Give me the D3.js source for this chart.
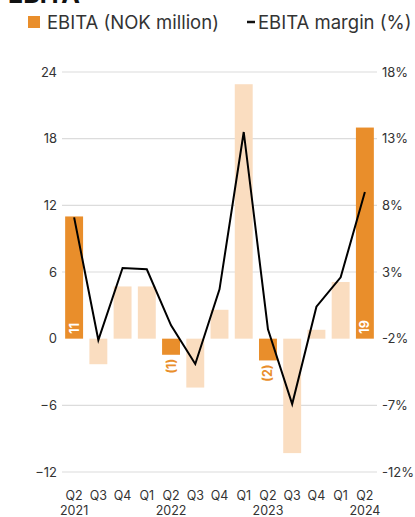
<!DOCTYPE html>
<html>
<head>
<meta charset="utf-8">
<script src="https://cdn.jsdelivr.net/npm/d3@7"></script>
<style>
  html, body { margin: 0; padding: 0; background: #fff; }
  svg { display: block; font-family: Inter, "Noto Sans", sans-serif; }
</style>
</head>
<body>
<svg id="chart" width="415" height="517"></svg>
<script>
// Quarterly EBITA (NOK million) and EBITA margin (%)
const quarters = ["Q2", "Q3", "Q4", "Q1", "Q2", "Q3", "Q4", "Q1", "Q2", "Q3", "Q4", "Q1", "Q2"];
const years    = ["2021", "", "", "", "2022", "", "", "", "2023", "", "", "", "2024"];
const ebita    = [11, -2.3, 4.7, 4.7, -1.45, -4.4, 2.6, 22.9, -1.96, -10.3, 0.8, 5.1, 19];
const margin   = [7.1, -2.1, 3.3, 3.2, -1.0, -3.9, 1.7, 13.5, -1.3, -6.9, 0.4, 2.6, 9.0];
// Quarters that are highlighted (reported quarter of each year)
const highlight = [true, false, false, false, true, false, false, false, true, false, false, false, true];
const leftTicks  = [-12, -6, 0, 6, 12, 18, 24];
const rightTicks = [-12, -7, -2, 3, 8, 13, 18];

const dark = "#E98E2B", light = "#FADDC0", textCol = "#333";
const svg = d3.select("#chart");
const idx = d3.range(quarters.length);

const x = d3.scaleBand().domain(idx).range([62, 377]).paddingInner(0.26).paddingOuter(0.13);
const yL = d3.scaleLinear().domain([-12, 24]).range([472, 72]);
const yR = d3.scaleLinear().domain([-12, 18]).range([472, 72]);

// Title (partly above the visible area)
svg.append("text").attr("x", 8).attr("y", 3).attr("font-size", 25).attr("font-weight", 700)
  .attr("fill", "#111").text("EBITA");

// Legend
svg.append("rect").attr("x", 28).attr("y", 16).attr("width", 12).attr("height", 12).attr("fill", dark);
svg.append("text").attr("x", 47).attr("y", 28.5).attr("font-size", 18.5).attr("fill", textCol).text("EBITA (NOK million)");
svg.append("line").attr("x1", 247).attr("x2", 255).attr("y1", 22).attr("y2", 22)
  .attr("stroke", "#111").attr("stroke-width", 2.5);
svg.append("text").attr("x", 258).attr("y", 28.5).attr("font-size", 18.5).attr("fill", textCol).text("EBITA margin (%)");

// Gridlines (no line at zero)
svg.append("g").selectAll("line").data(leftTicks.filter(t => t !== 0)).join("line")
  .attr("x1", 62).attr("x2", 377).attr("y1", d => yL(d)).attr("y2", d => yL(d))
  .attr("stroke", "#dcdcdc").attr("stroke-width", 1.2);

// Left axis
const axL = svg.append("g").attr("transform", "translate(62,0)")
  .call(d3.axisLeft(yL).tickValues(leftTicks).tickSize(0).tickPadding(5).tickFormat(d3.format("d")));
axL.select(".domain").remove();
axL.selectAll("text").attr("font-size", 13).attr("fill", textCol).attr("font-family", "Inter, sans-serif");

// Right axis
const axR = svg.append("g").attr("transform", "translate(377,0)")
  .call(d3.axisRight(yR).tickValues(rightTicks).tickSize(0).tickPadding(5).tickFormat(d => d + "%"));
axR.select(".domain").remove();
axR.selectAll("text").attr("font-size", 13).attr("fill", textCol).attr("font-family", "Inter, sans-serif");

// Bars
svg.append("g").selectAll("rect").data(idx).join("rect")
  .attr("x", i => x(i)).attr("width", x.bandwidth())
  .attr("y", i => yL(Math.max(0, ebita[i])))
  .attr("height", i => Math.abs(yL(ebita[i]) - yL(0)))
  .attr("fill", i => highlight[i] ? dark : light);

// Value labels on highlighted bars, rotated
svg.append("g").selectAll("text").data(idx.filter(i => highlight[i])).join("text")
  .attr("font-size", 12.5).attr("font-weight", 700)
  .attr("transform", i => {
    const cx = x(i) + x.bandwidth() / 2 + 4.5;
    const yy = ebita[i] >= 0 ? yL(0) - 5 : yL(ebita[i]) + 4;
    return `translate(${cx},${yy}) rotate(-90)`;
  })
  .attr("text-anchor", i => ebita[i] >= 0 ? "start" : "end")
  .attr("fill", i => ebita[i] >= 0 ? "#fff" : dark)
  .text(i => ebita[i] >= 0 ? Math.round(ebita[i]) : "(" + Math.round(Math.abs(ebita[i])) + ")");

// Margin line
const line = d3.line().x(i => x(i) + x.bandwidth() / 2).y(i => yR(margin[i]));
svg.append("path").datum(idx).attr("d", line)
  .attr("fill", "none").attr("stroke", "#000").attr("stroke-width", 2).attr("stroke-linejoin", "miter");

// X-axis category labels
const xl = svg.append("g");
xl.selectAll("text.q").data(idx).join("text").attr("class", "q")
  .attr("x", i => x(i) + x.bandwidth() / 2).attr("y", 500).attr("text-anchor", "middle")
  .attr("font-size", 12.5).attr("fill", textCol).text(i => quarters[i]);
xl.selectAll("text.yr").data(idx.filter(i => years[i])).join("text").attr("class", "yr")
  .attr("x", i => x(i) + x.bandwidth() / 2).attr("y", 514.5).attr("text-anchor", "middle")
  .attr("font-size", 12.5).attr("fill", textCol).text(i => years[i]);
</script>
</body>
</html>
